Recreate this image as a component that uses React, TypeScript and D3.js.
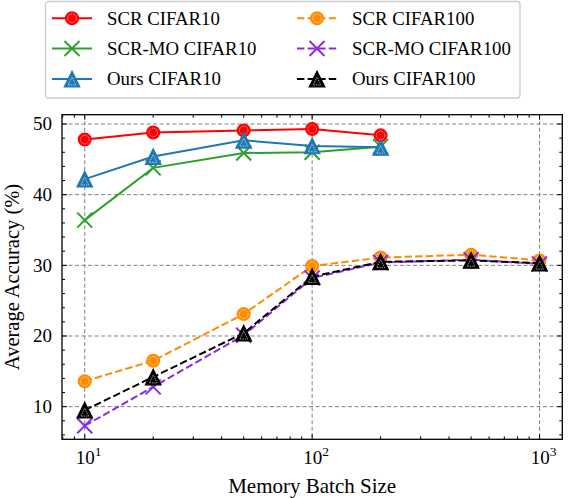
import React from "react";
import * as d3 from "d3";

const batchSizes = [10, 20, 50, 100, 200, 500, 1000];
const scrC10 = [47.8, 48.8, 49.1, 49.3, 48.4];
const scrMoC10 = [36.4, 43.8, 45.9, 46.0, 46.8];
const oursC10 = [42.2, 45.4, 47.7, 46.9, 46.7];
const scrC100 = [13.6, 16.5, 23.1, 29.9, 31.1, 31.5, 30.7];
const scrMoC100 = [7.3, 12.8, 20.1, 28.2, 30.4, 30.8, 30.2];
const oursC100 = [9.5, 14.2, 20.4, 28.4, 30.5, 30.7, 30.3];

const xMajor = [10, 100, 1000];
const yMajor = [10, 20, 30, 40, 50];

type Marker = "circle" | "x" | "tri";
interface Series {
  name: string;
  values: number[];
  color: string;
  dashed: boolean;
  marker: Marker;
}
const series: Series[] = [
  { name: "SCR CIFAR10", values: scrC10, color: "#ff0000", dashed: false, marker: "circle" },
  { name: "SCR-MO CIFAR10", values: scrMoC10, color: "#2ca02c", dashed: false, marker: "x" },
  { name: "Ours CIFAR10", values: oursC10, color: "#1f77b4", dashed: false, marker: "tri" },
  { name: "SCR CIFAR100", values: scrC100, color: "#ff8c00", dashed: true, marker: "circle" },
  { name: "SCR-MO CIFAR100", values: scrMoC100, color: "#8a2be2", dashed: true, marker: "x" },
  { name: "Ours CIFAR100", values: oursC100, color: "#000000", dashed: true, marker: "tri" },
];

const FONT = "'Liberation Serif', 'Times New Roman', serif";

function MarkerShape({ m, cx, cy, color }: { m: Marker; cx: number; cy: number; color: string }) {
  if (m === "circle") {
    return (
      <g>
        <circle cx={cx} cy={cy} r={6.4} fill={color} stroke={color} strokeWidth={1.2} />
        <circle cx={cx} cy={cy} r={4.3} fill="none" stroke="#fff" strokeWidth={0.6} strokeDasharray="1.4,0.9" />
      </g>
    );
  }
  if (m === "x") {
    const s = 7.5;
    return (
      <g stroke={color} strokeWidth={2}>
        <line x1={cx - s} y1={cy - s} x2={cx + s} y2={cy + s} />
        <line x1={cx - s} y1={cy + s} x2={cx + s} y2={cy - s} />
      </g>
    );
  }
  const h = 7.8;
  const pts = [
    [cx, cy - h],
    [cx - h, cy + h],
    [cx + h, cy + h],
  ];
  const k = 0.5;
  const inner = pts.map(([px, py]) => [cx + (px - cx) * k, cy + 2 + (py - cy) * k]);
  return (
    <g>
      <polygon points={pts.map((p) => p.join(",")).join(" ")} fill={color} stroke={color} strokeWidth={1.2} strokeLinejoin="miter" />
      <polygon points={inner.map((p) => p.join(",")).join(" ")} fill="none" stroke="#fff" strokeWidth={0.6} strokeDasharray="1.4,0.9" />
    </g>
  );
}

export default function App() {
  const W = 576;
  const H = 498;
  const left = 62;
  const right = 562.3;
  const top = 114.7;
  const bottom = 439.3;

  const x = d3.scaleLog().domain([Math.pow(10, 0.9), Math.pow(10, 3.1)]).range([left, right]);
  const y = d3.scaleLinear().domain([5.38, 51.32]).range([bottom, top]);

  const xMinor: number[] = [];
  for (const dec of [1, 10, 100]) {
    for (let k = 2; k <= 9; k++) {
      const v = k * dec;
      if (v >= x.domain()[0] && v <= x.domain()[1] && !xMajor.includes(v)) xMinor.push(v);
    }
  }
  const xMinorF = xMinor.filter((v) => v >= 8);
  const yMinor = d3.range(6, 51.3, 2).filter((v) => !yMajor.includes(v));

  const line = (vals: number[]) =>
    d3
      .line<number>()
      .x((_, i) => x(batchSizes[i]))
      .y((v) => y(v))(vals) as string;

  const majLen = 5;
  const minLen = 3;

  // legend
  const legX0 = 45.5;
  const legY0 = 1.5;
  const legW = 474.5;
  const legH = 96.5;
  const rowY = [18.3, 48.5, 79];
  const colX = [52, 297];
  const handleLen = 40;

  return (
    <div style={{ position: "fixed", left: 0, top: 0 }}>
      <svg width={W} height={H} style={{ display: "block", background: "#fff" }} fontFamily={FONT}>
        {/* grid */}
        <g stroke="#808080" strokeWidth={1} strokeDasharray="4,2.5">
          {xMajor.map((v) => (
            <line key={"gx" + v} x1={x(v)} x2={x(v)} y1={top} y2={bottom} />
          ))}
          {yMajor.map((v) => (
            <line key={"gy" + v} x1={left} x2={right} y1={y(v)} y2={y(v)} />
          ))}
        </g>

        {/* series */}
        {series.map((s) => (
          <g key={s.name}>
            <path d={line(s.values)} fill="none" stroke={s.color} strokeWidth={2} strokeDasharray={s.dashed ? "7.4,3.2" : undefined} />
            {s.values.map((v, i) => (
              <MarkerShape key={i} m={s.marker} cx={x(batchSizes[i])} cy={y(v)} color={s.color} />
            ))}
          </g>
        ))}

        {/* ticks */}
        <g stroke="#000" strokeWidth={1}>
          {xMajor.map((v) => (
            <g key={"tx" + v}>
              <line x1={x(v)} x2={x(v)} y1={bottom} y2={bottom - majLen} />
              <line x1={x(v)} x2={x(v)} y1={top} y2={top + majLen} />
            </g>
          ))}
          {xMinorF.map((v) => (
            <g key={"tmx" + v}>
              <line x1={x(v)} x2={x(v)} y1={bottom} y2={bottom - minLen} />
              <line x1={x(v)} x2={x(v)} y1={top} y2={top + minLen} />
            </g>
          ))}
          {yMajor.map((v) => (
            <g key={"ty" + v}>
              <line x1={left} x2={left + majLen} y1={y(v)} y2={y(v)} />
              <line x1={right} x2={right - majLen} y1={y(v)} y2={y(v)} />
            </g>
          ))}
          {yMinor.map((v) => (
            <g key={"tmy" + v}>
              <line x1={left} x2={left + minLen} y1={y(v)} y2={y(v)} />
              <line x1={right} x2={right - minLen} y1={y(v)} y2={y(v)} />
            </g>
          ))}
        </g>

        {/* frame */}
        <rect x={left} y={top} width={right - left} height={bottom - top} fill="none" stroke="#000" strokeWidth={1.3} />

        {/* tick labels */}
        {yMajor.map((v) => (
          <text key={"ly" + v} x={left - 10} y={y(v)} dy="0.34em" textAnchor="end" fontSize={19} fill="#000">
            {v}
          </text>
        ))}
        {xMajor.map((v) => (
          <text key={"lx" + v} x={x(v) + 4} y={464} textAnchor="middle" fontSize={19} fill="#000">
            10
            <tspan fontSize={13.5} dy={-8}>
              {Math.round(Math.log10(v))}
            </tspan>
          </text>
        ))}

        {/* axis labels */}
        <text x={(left + right) / 2} y={493} textAnchor="middle" fontSize={21} fill="#000">
          Memory Batch Size
        </text>
        <text transform={`translate(19,${(top + bottom) / 2}) rotate(-90)`} textAnchor="middle" fontSize={20.5} fill="#000">
          Average Accuracy (%)
        </text>

        {/* legend */}
        <rect x={legX0} y={legY0} width={legW} height={legH} rx={3} fill="#fff" fillOpacity={0.8} stroke="#cccccc" strokeWidth={1.3} />
        {series.map((s, i) => {
          const col = Math.floor(i / 3);
          const row = i % 3;
          const hx = colX[col];
          const hy = rowY[row];
          return (
            <g key={"leg" + s.name}>
              <line x1={hx} x2={hx + handleLen} y1={hy} y2={hy} stroke={s.color} strokeWidth={2} strokeDasharray={s.dashed ? "7.4,3.2" : undefined} />
              <MarkerShape m={s.marker} cx={hx + handleLen / 2} cy={hy} color={s.color} />
              <text x={hx + handleLen + 15} y={hy} dy="0.34em" fontSize={18.8} fill="#000">
                {s.name}
              </text>
            </g>
          );
        })}
      </svg>
    </div>
  );
}
